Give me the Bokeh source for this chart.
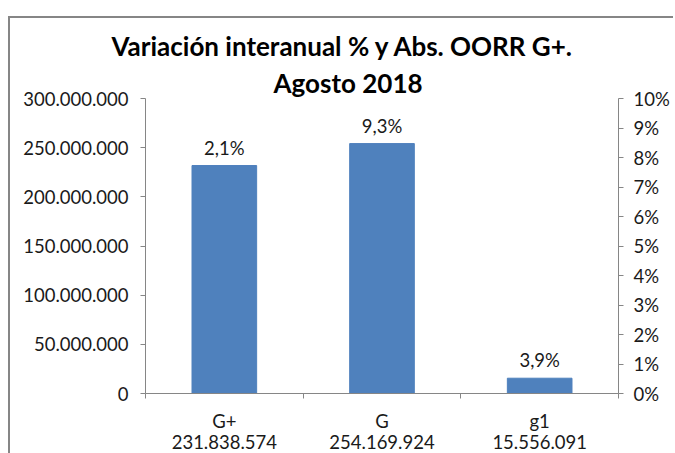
from bokeh.plotting import figure
from bokeh.models import (Range1d, LinearAxis, FixedTicker, CustomJSTickFormatter, Title)
from bokeh.core.properties import value
from bokeh.embed import file_html
from bokeh.resources import INLINE

# ---- data ----
categories = ["G+", "G", "g1"]
abs_values = [231838574, 254169924, 15556091]
pct_values = [2.1, 9.3, 3.9]
abs_ticks = [0, 50000000, 100000000, 150000000, 200000000, 250000000, 300000000]
pct_ticks = [0, 1, 2, 3, 4, 5, 6, 7, 8, 9, 10]
title_line1 = "Variación interanual % y Abs. OORR G+."
title_line2 = "Agosto 2018"


def es_int(v):
    return f"{v:,}".replace(",", ".")


def es_pct(v):
    return f"{v:.1f}".replace(".", ",") + "%"


centers = [i + 0.5 for i in range(len(categories))]
pct_labels = [es_pct(v) for v in pct_values]
abs_labels = [es_int(v) for v in abs_values]

FONT = "Lato"
TXT = "#1a1a1a"
AX = "#868686"
W, H = 665, 437
TICK_FS = "18.5px"

p = figure(width=W, height=H, output_backend="svg", toolbar_location=None,
           x_range=Range1d(0, len(categories)), y_range=Range1d(0, 300000000),
           min_border_left=135, min_border_right=57, min_border_top=80, min_border_bottom=62,
           title=title_line1)
p.styles = {"position": "relative", "left": "8px", "top": "16px",
            "border-top": f"2px solid {AX}", "border-left": f"2px solid {AX}"}
p.outline_line_color = None
p.grid.visible = False
p.background_fill_color = "white"
p.border_fill_color = "white"

p.title.text_font = FONT
p.title.text_font_size = "26px"
p.title.text_font_style = "bold"
p.title.text_color = "black"
p.title.align = "left"
p.title.offset = -34
p.title.standoff = 5

t2 = Title(text=title_line2, text_font=FONT, text_font_size="26px", text_font_style="bold",
           text_color="black", align="left", offset=128, standoff=0)
p.add_layout(t2, "above")

# bars
p.vbar(x=centers, top=abs_values, width=0.41, fill_color="#4F81BD", line_color="#4F81BD")

# data labels
p.text(x=centers, y=abs_values, text=pct_labels, text_align="center", text_baseline="alphabetic",
       y_offset=-18, text_font=value(FONT), text_font_size=TICK_FS, text_color=TXT)

# left axis
ya = p.yaxis[0]
ya.ticker = FixedTicker(ticks=abs_ticks)
ya.formatter = CustomJSTickFormatter(code=r'return Math.round(tick).toString().replace(/\B(?=(\d{3})+(?!\d))/g, ".");')
ya.axis_line_color = AX
ya.major_tick_line_color = AX
ya.major_tick_out = 5
ya.major_tick_in = 0
ya.minor_tick_line_color = None
ya.major_label_standoff = 12
ya.major_label_text_font = FONT
ya.major_label_text_font_size = TICK_FS
ya.major_label_text_color = TXT

# right axis
p.extra_y_ranges = {"pct": Range1d(0, 10)}
ra = LinearAxis(y_range_name="pct", ticker=FixedTicker(ticks=pct_ticks),
                formatter=CustomJSTickFormatter(code='return Math.round(tick) + "%";'))
ra.axis_line_color = AX
ra.major_tick_line_color = AX
ra.major_tick_out = 5
ra.major_tick_in = 0
ra.minor_tick_line_color = None
ra.major_label_standoff = 10
ra.major_label_text_font = FONT
ra.major_label_text_font_size = TICK_FS
ra.major_label_text_color = TXT
p.add_layout(ra, "right")

# bottom axis (categories)
xa = p.xaxis[0]
xa.ticker = FixedTicker(ticks=centers, minor_ticks=list(range(len(categories) + 1)))
xa.major_label_overrides = {c: lab for c, lab in zip(centers, categories)}
xa.axis_line_color = AX
xa.major_tick_line_color = None
xa.major_tick_out = 0
xa.major_tick_in = 0
xa.minor_tick_line_color = AX
xa.minor_tick_out = 5
xa.minor_tick_in = 0
xa.major_label_standoff = 11
xa.major_label_text_font = FONT
xa.major_label_text_font_size = TICK_FS
xa.major_label_text_color = TXT

# second line of category labels (absolute values)
xa2 = LinearAxis(ticker=FixedTicker(ticks=centers))
xa2.major_label_overrides = {c: lab for c, lab in zip(centers, abs_labels)}
xa2.axis_line_color = None
xa2.major_tick_line_color = None
xa2.minor_tick_line_color = None
xa2.major_tick_out = 0
xa2.major_tick_in = 0
xa2.major_label_standoff = 0
xa2.major_label_text_font = FONT
xa2.major_label_text_font_size = TICK_FS
xa2.major_label_text_color = TXT
p.add_layout(xa2, "below")

open("out.html", "w").write(file_html(p, INLINE))
